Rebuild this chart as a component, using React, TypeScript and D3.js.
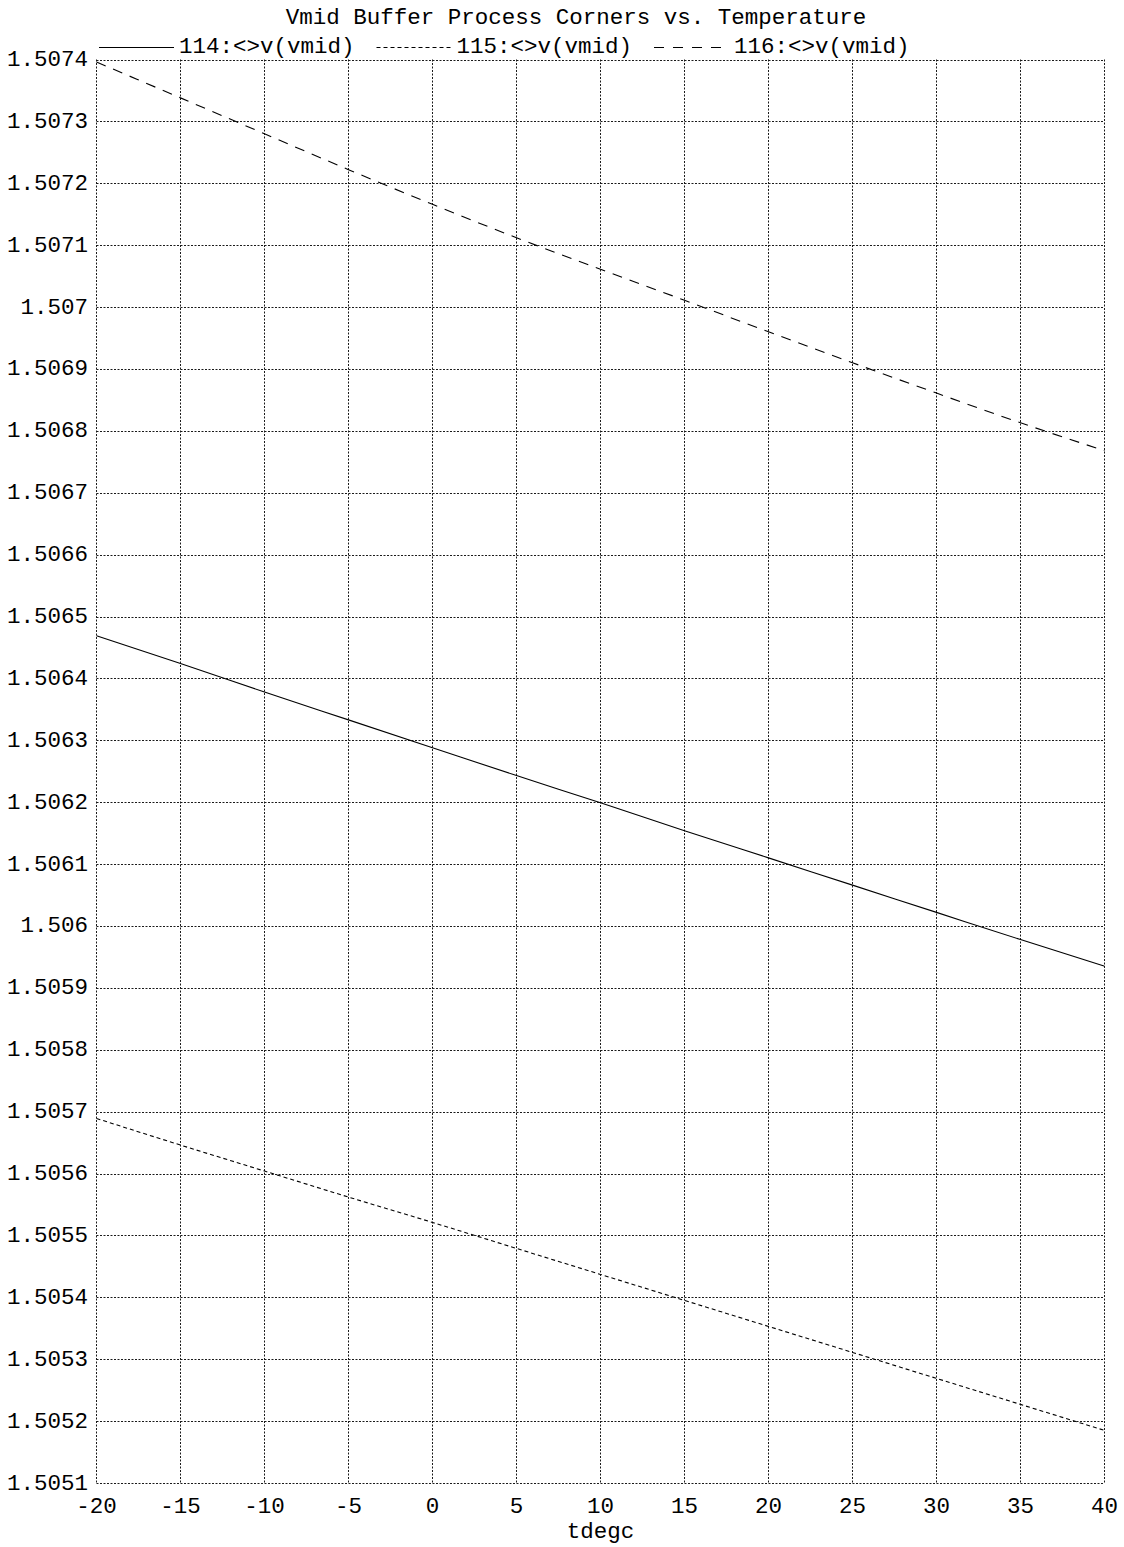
import React from "react";
import * as d3 from "d3";

// Temperature sweep (°C) and simulated vmid voltage for each process corner (V)
const temps = [-20, -15, -10, -5, 0, 5, 10, 15, 20, 25, 30, 35, 40];
const v114 = [1.506469, 1.506424, 1.506378, 1.506333, 1.506288, 1.506243, 1.506199, 1.506154, 1.50611, 1.506066, 1.506022, 1.505978, 1.505935];
const v115 = [1.505689, 1.505646, 1.505604, 1.505562, 1.505521, 1.505479, 1.505437, 1.505395, 1.505353, 1.505311, 1.505269, 1.505227, 1.505185];
const v116 = [1.507396, 1.507338, 1.50728, 1.507222, 1.507166, 1.507112, 1.507061, 1.507011, 1.50696, 1.50691, 1.506861, 1.506813, 1.506768];

const seriesNames = ["114:<>v(vmid)", "115:<>v(vmid)", "116:<>v(vmid)"];
const title = "Vmid Buffer Process Corners vs. Temperature";
const xLabel = "tdegc";
const xDomain = [-20, 40];
const yDomain = [1.5051, 1.5074];

const W = 1124;
const H = 1547;
const FONT = "'Liberation Mono', 'Courier New', monospace";
const FS = 22.5;
const CHAR_W = FS * 0.6;

const left = 96.5;
const right = 1104.5;
const top = 59.5;
const bottom = 1483;

export default function App() {
  const x = d3.scaleLinear().domain(xDomain).range([left, right]);
  const y = d3.scaleLinear().domain(yDomain).range([bottom, top]);
  const xTicks = x.ticks(12);
  const yTicks = y.ticks(23);
  const fmtY = d3.format(".5~f");

  const series = [
    { name: seriesNames[0], values: v114, dash: "none", legendDash: "none" },
    { name: seriesNames[1], values: v115, dash: "4,3", legendDash: "4,3" },
    { name: seriesNames[2], values: v116, dash: "10,8", legendDash: "10,9" },
  ];

  const line = d3
    .line<[number, number]>()
    .x((d) => x(d[0]))
    .y((d) => y(d[1]))
    .curve(d3.curveMonotoneX);

  // legend layout: sample line, label, spacing
  const sampleLen = 75;
  const legendStart = 99;
  let cursor = legendStart;
  const legendItems = series.map((s) => {
    const item = { ...s, x0: cursor, textX: cursor + sampleLen + 5 };
    cursor = item.textX + s.name.length * CHAR_W + 22;
    return item;
  });

  const gridStyle = { stroke: "#1a1a1a", strokeWidth: 1, strokeDasharray: "2,1.5", fill: "none" };

  return (
    <div style={{ position: "absolute", left: 0, top: 0 }}>
      <svg width={W} height={H} style={{ display: "block", background: "#fff" }} fontFamily={FONT}>
        <rect x={0} y={0} width={W} height={H} fill="#fff" />
        <text x={576} y={24} fontSize={FS} textAnchor="middle" fill="#000">
          {title}
        </text>

        {legendItems.map((it) => (
          <g key={it.name}>
            <line
              x1={it.x0}
              x2={it.x0 + sampleLen - (it.legendDash === "10,9" ? 8 : 0)}
              y1={47.5}
              y2={47.5}
              stroke="#000"
              strokeWidth={1}
              strokeDasharray={it.legendDash}
            />
            <text x={it.textX} y={53} fontSize={FS} fill="#000">
              {it.name}
            </text>
          </g>
        ))}

        {/* grid */}
        {yTicks.map((t) => (
          <line key={"gy" + t} x1={left} x2={right} y1={Math.round(y(t)) + 0.5} y2={Math.round(y(t)) + 0.5} style={gridStyle} />
        ))}
        {xTicks.map((t) => (
          <line key={"gx" + t} x1={x(t)} x2={x(t)} y1={top} y2={bottom + 0.5} style={gridStyle} />
        ))}

        {/* y tick labels */}
        {yTicks.map((t) => (
          <text key={"ty" + t} x={88} y={y(t) + 6.5} fontSize={FS} textAnchor="end" fill="#000">
            {fmtY(t)}
          </text>
        ))}
        {/* x tick labels */}
        {xTicks.map((t) => (
          <text key={"tx" + t} x={x(t)} y={1513} fontSize={FS} textAnchor="middle" fill="#000">
            {String(t)}
          </text>
        ))}
        <text x={(left + right) / 2} y={1538} fontSize={FS} textAnchor="middle" fill="#000">
          {xLabel}
        </text>

        {/* traces */}
        {series.map((s) => (
          <path
            key={s.name}
            d={line(temps.map((t, i) => [t, s.values[i]] as [number, number])) || ""}
            fill="none"
            stroke="#000"
            strokeWidth={1.1}
            strokeDasharray={s.dash}
          />
        ))}
      </svg>
    </div>
  );
}
